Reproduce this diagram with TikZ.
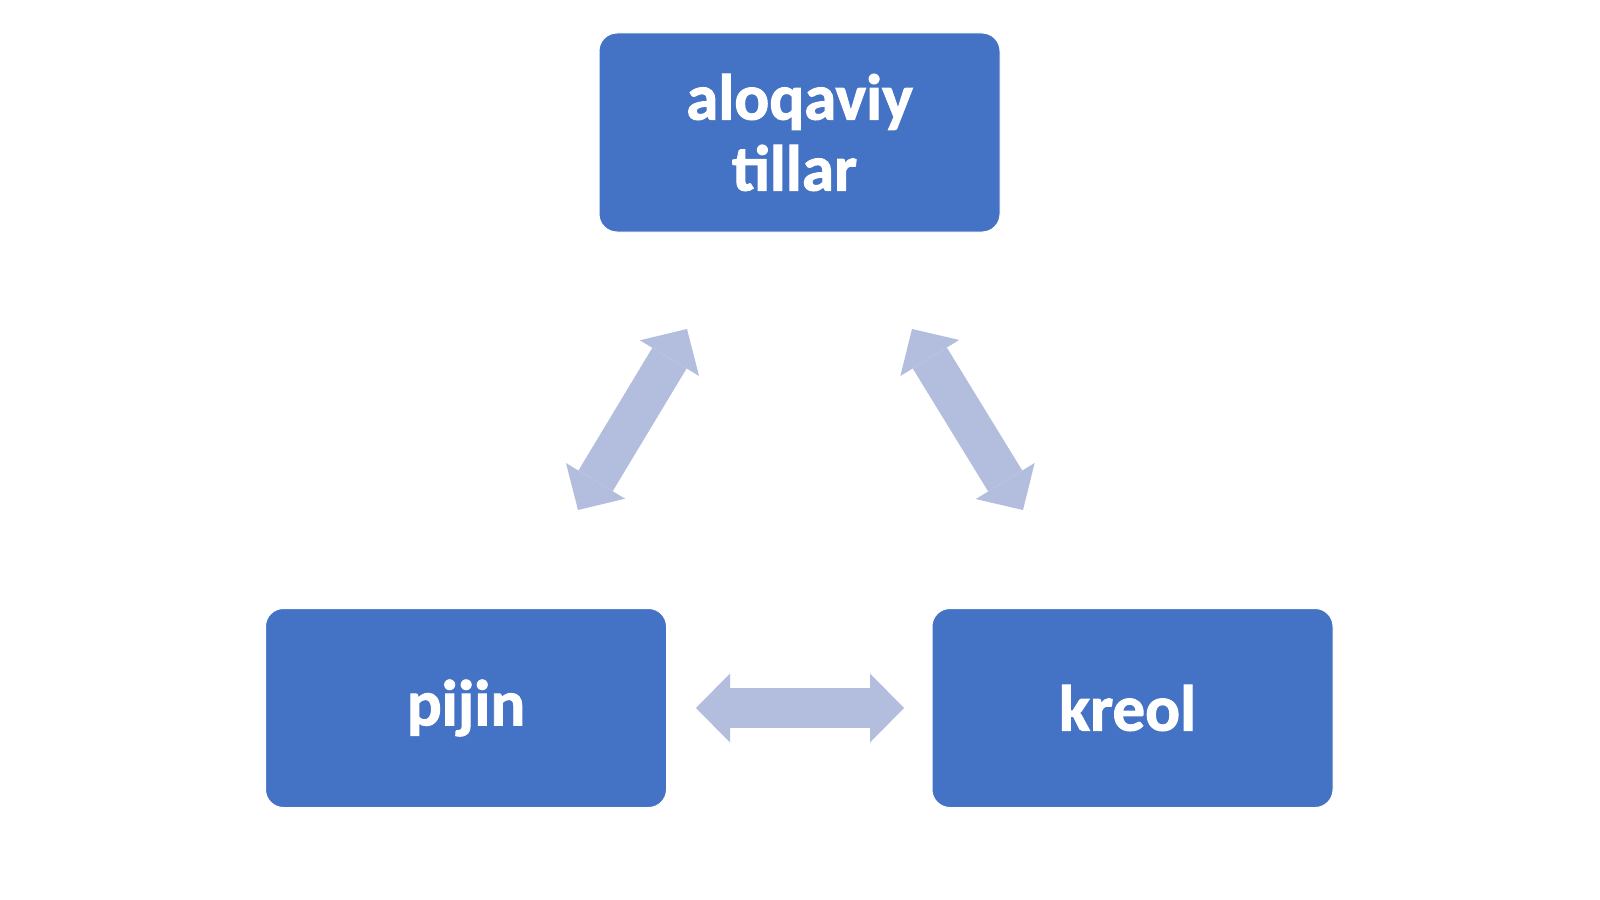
\documentclass[tikz,border=0pt]{standalone}
\usepackage{fontspec}
\setmainfont{Carlito}[BoldFont={Carlito Bold}, BoldFeatures={FakeBold=1.5}]
\usetikzlibrary{arrows.meta}
\definecolor{boxblue}{HTML}{4472C4}
\definecolor{arrowc}{HTML}{B3BEDF}
\tikzset{
  box/.style={draw=white, line width=1pt, fill=boxblue, rounded corners=18pt,
    minimum width=401pt, minimum height=199pt, text=white, align=center,
    font=\fontsize{65}{71}\selectfont\bfseries, inner sep=0pt},
  blockarrow/.style={draw=arrowc, line width=40pt,
    {Triangle[length=34pt,width=69pt,line width=0pt]}-{Triangle[length=34pt,width=69pt,line width=0pt]}}
}
\begin{document}
\begin{tikzpicture}[x=1pt,y=-1pt]
\useasboundingbox[fill=white] (0,0) rectangle (1600,899);
\node[box] (top) at (799.5,132.5) {aloqaviy\\\hspace*{-10pt}tillar};
\node[box] (pijin) at (466,708) {pijin};
\node[box] (kreol) at (1132.5,708) {\hspace*{-10pt}kreol};
\coordinate (l1) at (578,510);
\coordinate (l2) at (687,329);
\coordinate (r1) at (912,329);
\coordinate (r2) at (1023,510);
\coordinate (h1) at (696,708);
\coordinate (h2) at (904,708);
\draw[blockarrow] (l1) -- (l2);
\draw[blockarrow] (r1) -- (r2);
\draw[blockarrow] (h1) -- (h2);
\end{tikzpicture}
\end{document}
